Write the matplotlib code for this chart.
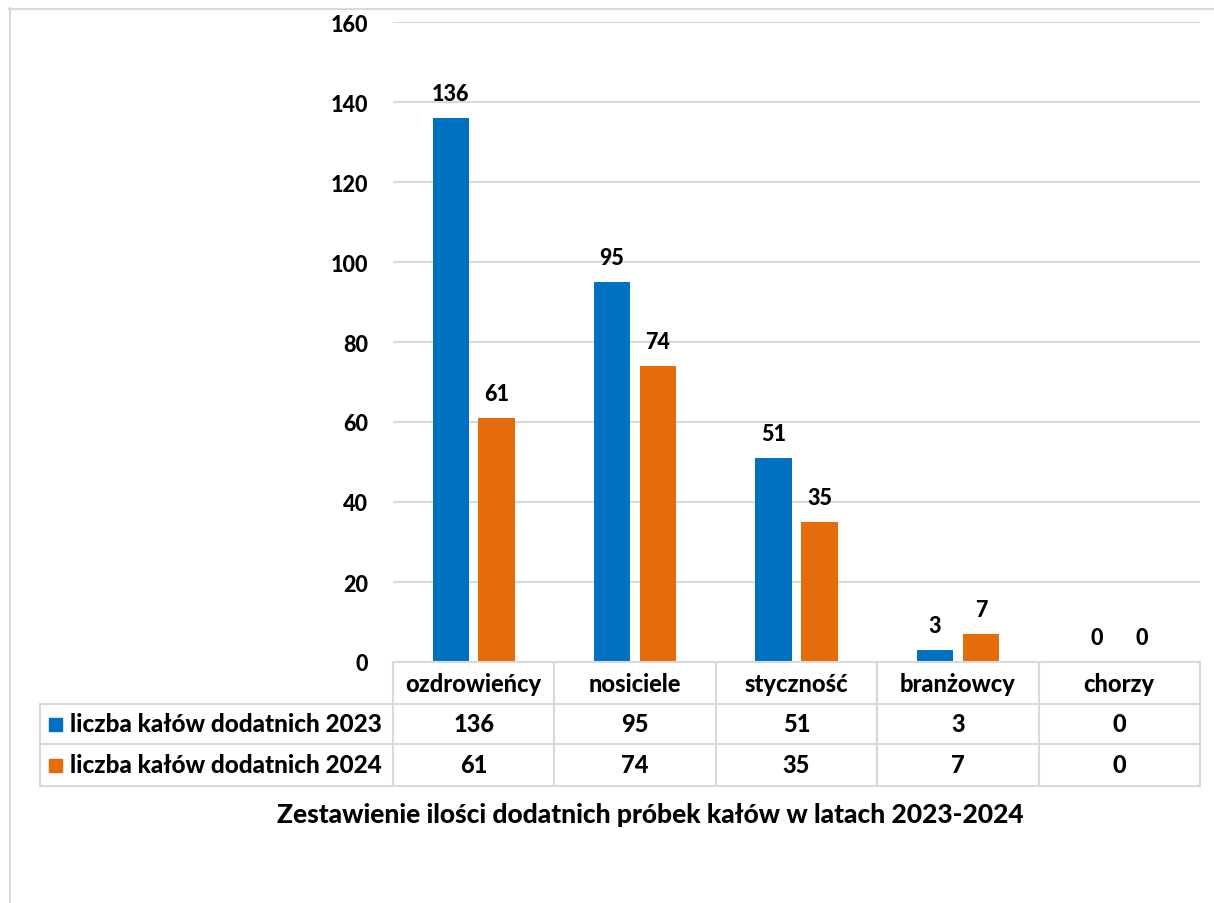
import matplotlib
matplotlib.use("Agg")
import matplotlib.pyplot as plt
from matplotlib.patches import Rectangle
import numpy as np

categories = ["ozdrowieńcy", "nosiciele", "styczność", "branżowcy", "chorzy"]
values_2023 = [136, 95, 51, 3, 0]
values_2024 = [61, 74, 35, 7, 0]
series_names = ["liczba kałów dodatnich 2023", "liczba kałów dodatnich 2024"]
yticks = [0, 20, 40, 60, 80, 100, 120, 140, 160]
title = "Zestawienie ilości dodatnich próbek kałów w latach 2023-2024"

blue = "#0070C0"
orange = "#E46C0A"
grid_c = "#D9D9D9"
FONT = ["Lato", "DejaVu Sans"]
plt.rcParams["font.family"] = FONT
plt.rcParams["font.weight"] = "bold"
WT = 900

W, H = 1214, 904
fig = plt.figure(figsize=(W / 100, H / 100), dpi=100)

def fx(px):
    return px / W

def fy(py):
    return 1 - py / H

# plot area
left, right, top, bottom = 393, 1200, 23, 663
ax = fig.add_axes([fx(left), fy(bottom), fx(right - left), (bottom - top) / H])
n = len(categories)
x = np.arange(n)
bw = 0.225
off = 0.142
ax.bar(x - off, values_2023, bw, color=blue, zorder=3)
ax.bar(x + off, values_2024, bw, color=orange, zorder=3)
for xi, v in zip(x, values_2023):
    ax.annotate(str(v), (xi - off, v), xytext=(0, 10), textcoords="offset points",
                ha="center", va="bottom", fontsize=15.5, fontweight=WT)
for xi, v in zip(x, values_2024):
    ax.annotate(str(v), (xi + off, v), xytext=(0, 10), textcoords="offset points",
                ha="center", va="bottom", fontsize=15.5, fontweight=WT)

ax.set_xlim(-0.5, n - 0.5)
ax.set_ylim(0, 160)
ax.set_yticks(yticks)
ax.set_yticklabels([str(t) for t in yticks], fontsize=15.5, fontweight=WT)
ax.tick_params(axis="y", length=0, pad=18)
ax.set_xticks([])
ax.grid(axis="y", color=grid_c, linewidth=1.5, zorder=0)
for s in ax.spines.values():
    s.set_visible(False)

# data table below the plot area
tab_top, row_h = 663, [42, 40, 42]
row_edges = np.cumsum([tab_top] + row_h)
tab_left = 40
tax = fig.add_axes([0, 0, 1, 1], facecolor="none")
tax.set_xlim(0, W)
tax.set_ylim(H, 0)
tax.axis("off")
col_w = (right - left) / n
col_edges = [left + i * col_w for i in range(n + 1)]
lw = 1.5
tax.plot([left, right], [row_edges[0]] * 2, color=grid_c, lw=lw)
for yy in row_edges[1:]:
    tax.plot([tab_left, right], [yy, yy], color=grid_c, lw=lw)
tax.plot([tab_left, tab_left], [row_edges[1], row_edges[3]], color=grid_c, lw=lw)
for xe in col_edges:
    tax.plot([xe, xe], [row_edges[0], row_edges[3]], color=grid_c, lw=lw)

rows = [values_2023, values_2024]
for i, c in enumerate(categories):
    cx = (col_edges[i] + col_edges[i + 1]) / 2
    tax.text(cx, (row_edges[0] + row_edges[1]) / 2 + 1, c, ha="center", va="center",
             fontsize=17, fontweight=WT)
    for r, vals in enumerate(rows):
        tax.text(cx, (row_edges[r + 1] + row_edges[r + 2]) / 2, str(vals[i]),
                 ha="center", va="center", fontsize=17, fontweight=WT)

for r, (name, col) in enumerate(zip(series_names, [blue, orange])):
    cy = (row_edges[r + 1] + row_edges[r + 2]) / 2
    tax.add_patch(Rectangle((49, cy - 6), 13, 13, color=col))
    tax.text(70, cy, name, ha="left", va="center", fontsize=17.5, fontweight=WT)

# chart title
tax.text(650, 815, title, ha="center", va="center", fontsize=19, fontweight=WT)

# chart frame
tax.plot([9, W], [9.5, 9.5], color=grid_c, lw=1.5)
tax.plot([9.5, 9.5], [9, H], color=grid_c, lw=1.5)

fig.savefig("out.png", dpi=100, facecolor="white")
